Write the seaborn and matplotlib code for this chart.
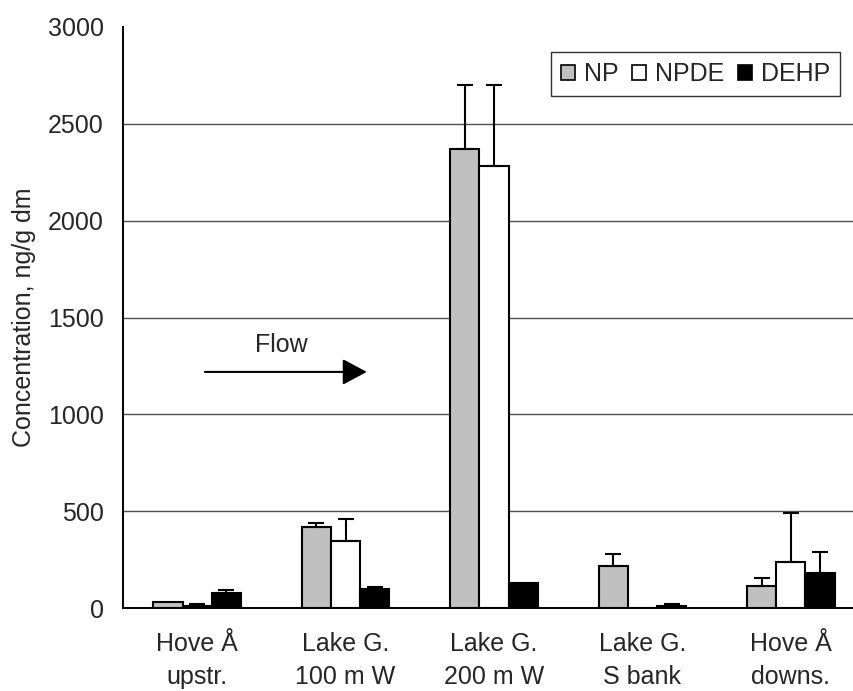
import matplotlib
matplotlib.use("Agg")
import matplotlib.pyplot as plt
import seaborn as sns
import pandas as pd
import numpy as np
from matplotlib.patches import Patch

sites = ["Hove Å\nupstr.", "Lake G.\n100 m W", "Lake G.\n200 m W", "Lake G.\nS bank", "Hove Å\ndowns."]
compounds = ["NP", "NPDE", "DEHP"]
np_vals = [31, 420, 2368, 217, 115]
np_err = [0, 18, 332, 60, 38]
npde_vals = [12, 344, 2281, 0, 239]
npde_err = [8, 117, 419, 0, 250]
dehp_vals = [76, 98, 127, 12, 179]
dehp_err = [15, 10, 0, 8, 112]
yticks = [0, 500, 1000, 1500, 2000, 2500, 3000]

sns.set_theme(style="white")
plt.rcParams['font.family'] = ['Liberation Sans', 'DejaVu Sans']
FS = 18

rows = []
for comp, vals in zip(compounds, [np_vals, npde_vals, dehp_vals]):
    for s, v in zip(sites, vals):
        rows.append({"site": s, "compound": comp, "value": v})
df = pd.DataFrame(rows)

fig = plt.figure(figsize=(8.54, 6.91), dpi=100)
ax = fig.add_axes([123/854, 1 - 608/691, 742/854, 581/691])

palette = {"NP": "#C0C0C0", "NPDE": "#FFFFFF", "DEHP": "#000000"}
sns.barplot(data=df, x="site", y="value", hue="compound", hue_order=compounds,
            order=sites, palette=palette, width=0.59, gap=0, errorbar=None,
            edgecolor="black", linewidth=1.5, saturation=1, ax=ax, legend=False, zorder=2)

# error bars (upper only) at the bar centres
errs = {"NP": np_err, "NPDE": npde_err, "DEHP": dehp_err}
vals = {"NP": np_vals, "NPDE": npde_vals, "DEHP": dehp_vals}
bars = [p for p in ax.patches]
for k, comp in enumerate(compounds):
    for i in range(len(sites)):
        p = bars[k * len(sites) + i]
        xc = p.get_x() + p.get_width() / 2
        e = errs[comp][i]
        if e > 0:
            ax.errorbar(xc, vals[comp][i], yerr=[[0], [e]], fmt="none", ecolor="black",
                        elinewidth=1.5, capsize=5.5, capthick=1.5, zorder=3)

ax.set_ylim(0, 3000)
ax.set_xlim(-0.5, 4.5)
ax.set_yticks(yticks)
ax.set_yticklabels([str(t) for t in yticks], fontsize=FS)
for t in yticks[1:-1]:
    ax.axhline(t, color="#505050", lw=1.0, zorder=0)

ax.set_xticks(np.arange(len(sites)))
ax.set_xticklabels(sites, fontsize=FS, linespacing=1.5)
ax.tick_params(axis="x", length=0, pad=17)
# category boundary ticks
ax.set_xticks(np.arange(-0.5, 5.0, 1.0), minor=True)
ax.tick_params(axis="x", which="minor", length=8, width=1.2, direction="out", color="black")
ax.tick_params(axis="y", length=8, width=1.2, direction="out", color="black", pad=6)

for s in ["top", "right"]:
    ax.spines[s].set_visible(False)
for s in ["left", "bottom"]:
    ax.spines[s].set_color("black")
    ax.spines[s].set_linewidth(1.4)

ax.set_xlabel("")
ax.set_ylabel("Concentration, ng/g dm", fontsize=FS, labelpad=8)

# flow arrow
ax.annotate("", xy=(1.143, 1219), xytext=(0.052, 1219),
            arrowprops=dict(arrowstyle="-|>,head_length=0.75,head_width=0.4", color="black", lw=1.5,
                            shrinkA=0, shrinkB=0, mutation_scale=20))
ax.text(0.565, 1359, "Flow", fontsize=FS, ha="center", va="center")

handles = [Patch(facecolor=palette[c], edgecolor="black", linewidth=1.2, label=c) for c in compounds]
leg = fig.legend(handles=handles, loc="upper left", bbox_to_anchor=(551/854, 1 - 52/691),
                 ncol=3, frameon=True, fontsize=FS, handlelength=0.56, handleheight=0.56,
                 handletextpad=0.35, columnspacing=0.55, borderpad=0.4, borderaxespad=0,
                 fancybox=False)
leg.get_frame().set_edgecolor("black")
leg.get_frame().set_linewidth(1.0)

fig.savefig("out.png", dpi=100)
